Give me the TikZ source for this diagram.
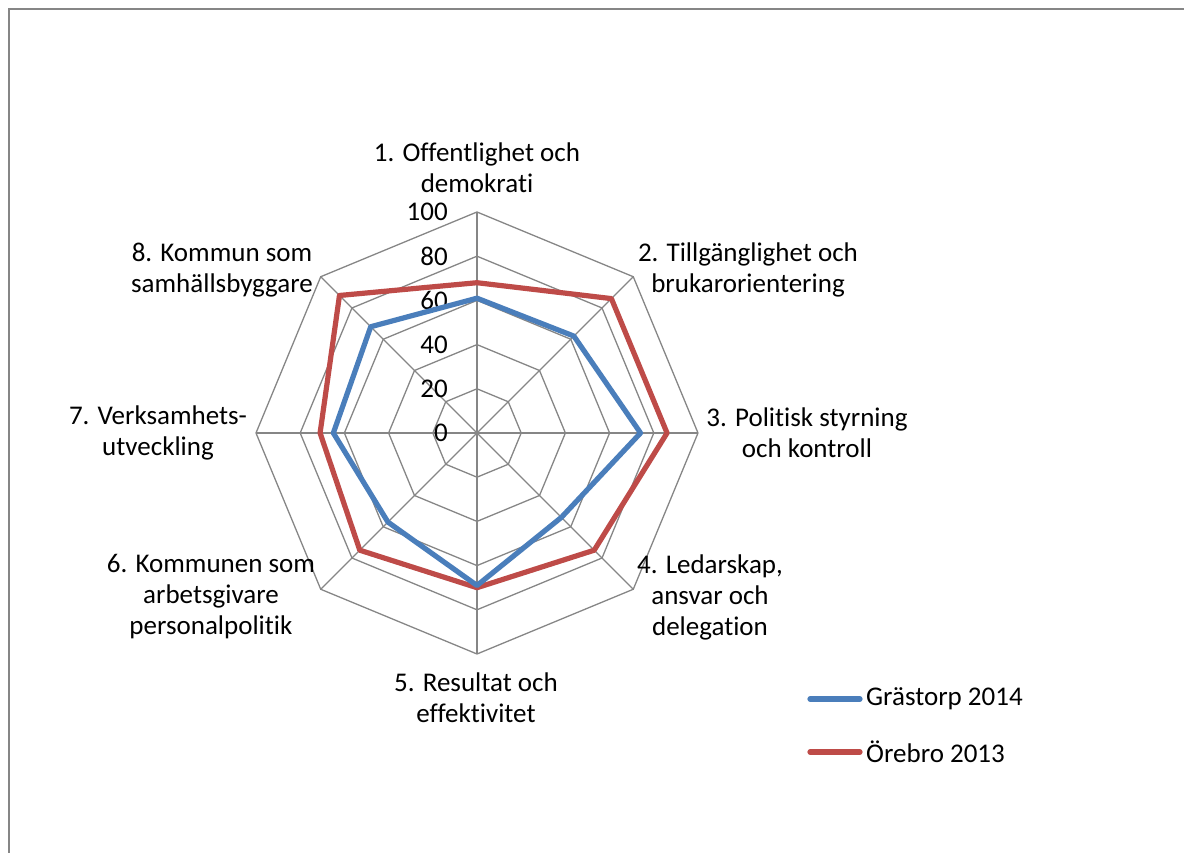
\documentclass[tikz,border=0pt]{standalone}
\usepackage{fontspec}
\setmainfont{Carlito}[Ligatures=NoCommon]
\usetikzlibrary{positioning}
\definecolor{seriesBlue}{HTML}{4A7EBB}
\definecolor{seriesRed}{HTML}{BE4B48}
\definecolor{gridGray}{HTML}{868686}

\begin{document}
\begin{tikzpicture}[x=1pt, y=1pt,
  every node/.style={font=\fontsize{27}{31}\selectfont, inner sep=0pt},
  grid line/.style={draw=gridGray, line width=1.3pt},
  series/.style={line width=5.2pt, line join=round},
  axislabel/.style={align=center},
  ticklabel/.style={anchor=east}]

\useasboundingbox (-477,-420) rectangle (707,433);
\draw[gridGray, line width=2pt] (-468,424) rectangle (720,-440);

% web
\foreach \r in {20,40,...,100}
  \draw[grid line] (90:2.21*\r) \foreach \a in {45,0,...,-225} { -- (\a:2.21*\r) } -- cycle;
\coordinate (centre) at (0,0);
\foreach \k in {1,...,8}
{
  \coordinate (spoke\k) at ({90-45*(\k-1)}:221);
  \draw[grid line] (centre) -- (spoke\k);
}

% scale
\foreach \v in {0,20,...,100}
  \node[ticklabel] (tick\v) at (-29, 2.21*\v) {\v};

% series
\foreach \v [count=\k] in {61,62,74,54,69,57,65,68}
  \coordinate (gr\k) at ({90-45*(\k-1)}:2.21*\v);
\foreach \v [count=\k] in {68,86,86,75,70,75,71,88}
  \coordinate (or\k) at ({90-45*(\k-1)}:2.21*\v);
\draw[series, seriesRed] (or1) -- (or2) -- (or3) -- (or4) -- (or5) -- (or6) -- (or7) -- (or8) -- cycle;
\draw[series, seriesBlue] (gr1) -- (gr2) -- (gr3) -- (gr4) -- (gr5) -- (gr6) -- (gr7) -- (gr8) -- cycle;

% categories
\node[axislabel] (cat1) at (0,265) {1. Offentlighet och\\demokrati};
\node[axislabel] (cat2) at (271,163) {2. Tillgänglighet och\\brukarorientering};
\node[axislabel] (cat3) at (330,0) {3. Politisk styrning\\och kontroll};
\node[axislabel] (cat4) at (233,-164) {4. Ledarskap,\\ansvar och\\delegation};
\node[axislabel] (cat5) at (-1,-265) {5. Resultat och\\effektivitet};
\node[axislabel] (cat6) at (-266,-164) {6. Kommunen som\\arbetsgivare\\personalpolitik};
\node[axislabel] (cat7) at (-319,0) {7. Verksamhets-\\utveckling};
\node[axislabel] (cat8) at (-255,163) {8. Kommun som\\samhällsbyggare};

% legend
\node[anchor=west] (leg1) at (389,-266) {Grästorp 2014};
\node[anchor=west] (leg2) at (389,-319) {Örebro 2013};
\coordinate (leg1start) at (333,-266);
\coordinate (leg2start) at (333,-319);
\draw[series, seriesBlue, line cap=round] (leg1start) -- ([xshift=-6pt]leg1.west);
\draw[series, seriesRed, line cap=round] (leg2start) -- ([xshift=-6pt]leg2.west);
\end{tikzpicture}
\end{document}
